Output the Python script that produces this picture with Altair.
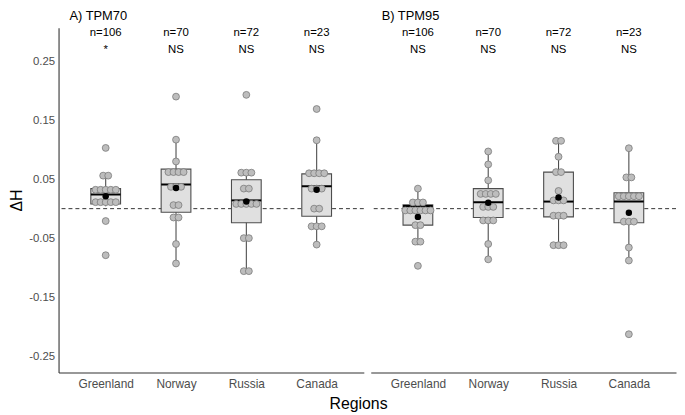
import altair as alt
import pandas as pd

regions = ["Greenland", "Norway", "Russia", "Canada"]
n_labels = ["n=106", "n=70", "n=72", "n=23"]
panel_titles = ["A) TPM70", "B) TPM95"]
x_title = "Regions"
ref_line = [0.0]
sig_tpm70 = ["*", "NS", "NS", "NS"]
sig_tpm95 = ["NS", "NS", "NS", "NS"]

# box summaries (lower whisker, q1, median, q3, upper whisker, mean)
tpm70_lo = [0.004, -0.093, -0.106, -0.061]
tpm70_q1 = [0.008, -0.006, -0.024, -0.013]
tpm70_med = [0.024, 0.041, 0.014, 0.038]
tpm70_q3 = [0.034, 0.067, 0.049, 0.059]
tpm70_hi = [0.056, 0.117, 0.061, 0.116]
tpm70_mean = [0.021, 0.035, 0.012, 0.032]

tpm95_lo = [-0.062, -0.086, -0.062, -0.088]
tpm95_q1 = [-0.028, -0.015, -0.014, -0.024]
tpm95_med = [0.0045, 0.011, 0.012, 0.012]
tpm95_q3 = [0.0065, 0.034, 0.062, 0.027]
tpm95_hi = [0.034, 0.097, 0.115, 0.102]
tpm95_mean = [-0.014, 0.010, 0.019, -0.007]

# dot values and how many dots share each value
tpm70_dot_vals = {
    "Greenland": [0.103, 0.056, 0.032, 0.011, -0.021, -0.079],
    "Norway": [0.190, 0.117, 0.080, 0.062, 0.037, 0.006, -0.015, -0.060, -0.093],
    "Russia": [0.193, 0.061, 0.034, 0.008, -0.050, -0.106],
    "Canada": [0.169, 0.116, 0.060, 0.034, 0.0, -0.030, -0.061],
}
tpm70_dot_counts = {
    "Greenland": [1, 2, 5, 5, 1, 1],
    "Norway": [1, 1, 1, 4, 3, 2, 2, 1, 1],
    "Russia": [1, 3, 2, 5, 2, 2],
    "Canada": [1, 1, 4, 3, 2, 3, 1],
}
tpm95_dot_vals = {
    "Greenland": [0.034, 0.0105, -0.003, -0.028, -0.056, -0.097],
    "Norway": [0.097, 0.075, 0.048, 0.025, 0.003, -0.020, -0.060, -0.086],
    "Russia": [0.115, 0.088, 0.062, 0.030, 0.014, -0.012, -0.062],
    "Canada": [0.1025, 0.053, 0.021, -0.022, -0.066, -0.088, -0.213],
}
tpm95_dot_counts = {
    "Greenland": [1, 3, 6, 2, 2, 1],
    "Norway": [1, 1, 1, 4, 3, 3, 1, 1],
    "Russia": [2, 1, 2, 1, 3, 3, 3],
    "Canada": [1, 2, 5, 3, 1, 1, 1],
}

W, H = 308, 348
Y_DOMAIN = [-0.278, 0.307]
X_DOMAIN = [-0.6, 3.6]
DOT_STEP = 0.072  # category units between stacked dots
FONT = "Liberation Sans"


def panel(title, lo, q1, med, q3, hi, mean, dot_vals, dot_counts, sig, show_y):
    summ = pd.DataFrame({"xi": list(range(len(regions))), "region": regions, "lo": lo,
                         "q1": q1, "med": med, "q3": q3, "hi": hi, "mean": mean,
                         "n": n_labels, "sig": sig})
    rows = []
    for i_r, r in enumerate(regions):
        for v, k in zip(dot_vals[r], dot_counts[r]):
            for i in range(k):
                rows.append({"xd": i_r + (i - (k - 1) / 2) * DOT_STEP, "val": v})
    dots = pd.DataFrame(rows)

    label_expr = "[" + ",".join("'%s'" % r for r in regions) + "][datum.value]"
    xaxis = alt.Axis(title=None, ticks=False, grid=False, labelAngle=0, labelFontSize=12,
                     values=list(range(len(regions))), labelExpr=label_expr,
                     labelColor="#4d4d4d", labelPadding=6, domainColor="#333333",
                     domainWidth=1.1, labelFont=FONT)
    xscale = alt.Scale(domain=X_DOMAIN, nice=False, zero=False)

    def X(field):
        return alt.X(field, type="quantitative", scale=xscale, axis=xaxis)

    yscale = alt.Scale(domain=Y_DOMAIN, nice=False, zero=False)
    if show_y:
        yaxis = alt.Axis(title="ΔH", values=[-0.25, -0.15, -0.05, 0.05, 0.15, 0.25],
                         labelExpr="datum.value < 0 ? '-' + format(abs(datum.value), '.2f') : format(datum.value, '.2f')",
                         ticks=False, grid=False, labelFontSize=11.5, labelColor="#4d4d4d",
                         labelPadding=4, titleFontSize=16, titleFontWeight="normal",
                         titleColor="black", titlePadding=4, domainColor="#333333",
                         domainWidth=1.1, labelFont=FONT, titleFont=FONT)
    else:
        yaxis = None

    def Y(field):
        return alt.Y(field, type="quantitative", scale=yscale, axis=yaxis)

    base = alt.Chart(summ)
    zero = alt.Chart(pd.DataFrame({"ref": ref_line})).mark_rule(
        strokeDash=[4, 3], color="#333333", strokeWidth=1).encode(y=Y("ref"))
    whisk = base.mark_rule(color="#4d4d4d", strokeWidth=1.1).encode(
        x=X("xi"), y=Y("lo"), y2="hi")
    box = base.mark_bar(size=30, fill="#e0e0e0", stroke="#4d4d4d", strokeWidth=1.1).encode(
        x=X("xi"), y=Y("q1"), y2="q3")
    median = base.mark_tick(size=30, thickness=2, color="black", opacity=1,
                            orient="horizontal").encode(x=X("xi"), y=Y("med"))
    pts = alt.Chart(dots).mark_circle(size=48, fill="#bdbdbd", stroke="#7a7a7a",
                                      strokeWidth=0.8, opacity=1).encode(
        x=X("xd"), y=Y("val"))
    mn = base.mark_circle(size=42, color="black", opacity=1).encode(x=X("xi"), y=Y("mean"))
    ntext = base.mark_text(fontSize=11.5, color="black", font=FONT).encode(
        x=X("xi"), y=alt.value(5), text="n:N")
    stext = base.mark_text(fontSize=11.5, color="black", font=FONT).encode(
        x=X("xi"), y=alt.value(23), text="sig:N")
    ttl = alt.Chart(pd.DataFrame({"t": [title]})).mark_text(
        fontSize=13, color="black", font=FONT, align="left").encode(
        x=alt.value(11), y=alt.value(-12), text="t:N")
    return alt.layer(zero, whisk, box, median, pts, mn, ntext, stext, ttl).properties(
        width=W, height=H)


pa = panel(panel_titles[0], tpm70_lo, tpm70_q1, tpm70_med, tpm70_q3, tpm70_hi, tpm70_mean,
           tpm70_dot_vals, tpm70_dot_counts, sig_tpm70, True)
pb = panel(panel_titles[1], tpm95_lo, tpm95_q1, tpm95_med, tpm95_q3, tpm95_hi, tpm95_mean,
           tpm95_dot_vals, tpm95_dot_counts, sig_tpm95, False)

chart = alt.hconcat(pa, pb, spacing=5).properties(
    padding=0,
    title=alt.TitleParams(x_title, orient="bottom", anchor="middle", fontSize=16,
                          fontWeight="normal", color="black", font=FONT, offset=7, dx=16),
).configure_view(strokeWidth=0)

chart.save("out.html", embed_options={"renderer": "svg", "actions": False})
